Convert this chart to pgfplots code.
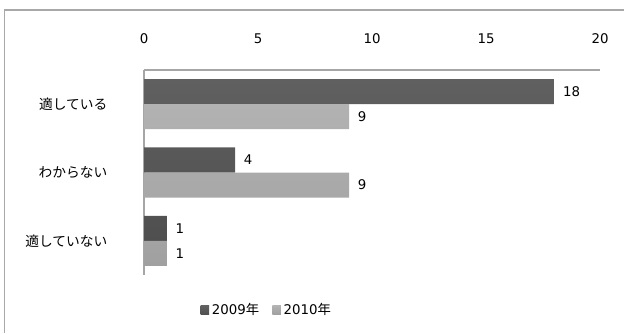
\documentclass[border=0pt]{standalone}
\usepackage{pgfplots}
\pgfplotsset{compat=1.18}
\usepackage{fontspec}
\setmainfont{DejaVu Sans}
\newfontfamily\jp{Noto Sans CJK JP}
\definecolor{darkbar}{HTML}{4F4F4F}
\definecolor{darkbartop}{HTML}{606060}
\definecolor{lightbar}{HTML}{A0A0A0}
\definecolor{lightbartop}{HTML}{B2B2B2}
\definecolor{frame}{HTML}{A8A8A8}
\begin{document}
\begin{tikzpicture}
\path[use as bounding box] (0pt,0pt) rectangle (468pt,249.75pt);
\draw[frame,line width=1.2pt] (3.4pt,0pt) -- (3.4pt,242.25pt) -- (468pt,242.25pt);
\begin{axis}[
  at={(108pt,43.5pt)}, anchor=south west,
  scale only axis,
  width=342pt, height=153.75pt,
  xmin=0, xmax=20,
  ymin=0.5, ymax=3.5,
  axis x line=top, axis y line=left,
  axis line style={-, draw=gray!70, line width=0.8pt},
  xtick={0,5,10,15,20},
  ytick={1,2,3},
  yticklabels={適していない,わからない,適している},
  yticklabel style={font=\jp\fontsize{10.3}{12}\selectfont, xshift=-24pt},
  xticklabel style={font=\fontsize{10}{12}\selectfont, yshift=16pt},
  /pgf/number format/assume math mode=true,
  major tick length=0pt,
  xbar, bar width=0.366,
  nodes near coords,
  nodes near coords style={font=\fontsize{10}{12}\selectfont, xshift=3pt},
  every node near coord/.append style={anchor=west},
  clip=false,
  legend style={at={(0.27,-0.171)}, anchor=center, draw=none, fill=none,
    legend columns=2, font=\fontsize{10}{12}\selectfont,
    /tikz/every even column/.append style={column sep=8pt}},
  legend cell align=left,
]
\addplot[bar shift=0.183, draw=none, top color=darkbartop, bottom color=darkbar,
  legend image code/.code={\fill[darkbar] (0pt,-3.2pt) rectangle (6.4pt,3.2pt);}]
  coordinates {(18,3) (4,2) (1,1)};
\addplot[bar shift=-0.183, draw=none, top color=lightbartop, bottom color=lightbar,
  legend image code/.code={\fill[lightbar] (0pt,-3.2pt) rectangle (6.4pt,3.2pt);}]
  coordinates {(9,3) (9,2) (1,1)};
\legend{2009{\jp 年},2010{\jp 年}}
\end{axis}
\end{tikzpicture}
\end{document}
